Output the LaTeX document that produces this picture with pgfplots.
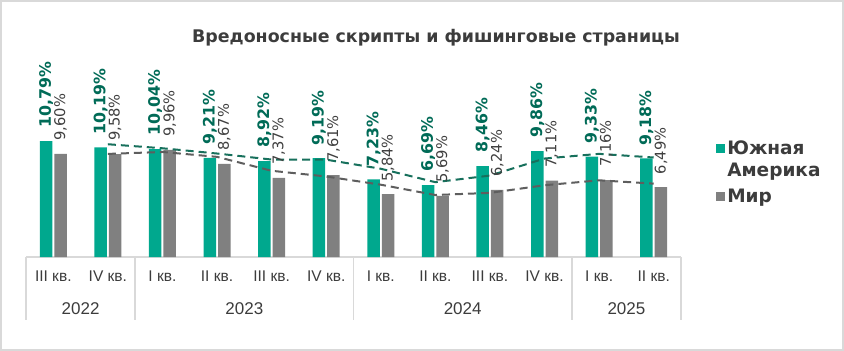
\documentclass[border=0pt]{standalone}
\usepackage{fontspec}
\setmainfont{DejaVu Sans}
\newfontfamily\lib{Liberation Sans}
\usepackage{pgfplots}
\usepackage{pgfplotstable}
\pgfplotsset{compat=1.18}
\definecolor{barGreen}{HTML}{00A88E}
\definecolor{barGray}{HTML}{808080}
\definecolor{lblGreen}{HTML}{006B57}
\definecolor{lblGray}{HTML}{404040}
\definecolor{trendGreen}{HTML}{17705C}
\definecolor{trendGray}{HTML}{5E5E5E}
\definecolor{axisGray}{HTML}{D9D9D9}
\definecolor{txtGray}{HTML}{3C3C3C}
\pgfplotsset{
  greenlegend/.style={legend image code/.code={\fill[barGreen] (0bp,6.5bp) rectangle (9bp,15.5bp);}},
  graylegend/.style={legend image code/.code={\fill[barGray] (0bp,-4.5bp) rectangle (9bp,4.5bp);}},
}

\pgfplotstableread{
x sa world
0 10.79 9.60
1 10.19 9.58
2 10.04 9.96
3 9.21 8.67
4 8.92 7.37
5 9.19 7.61
6 7.23 5.84
7 6.69 5.69
8 8.46 6.24
9 9.86 7.11
10 9.33 7.16
11 9.18 6.49
}\datatable

\pgfplotstableread{
x sa world
1 10.49 9.59
2 10.115 9.77
3 9.625 9.315
4 9.065 8.02
5 9.055 7.49
6 8.21 6.725
7 6.96 5.765
8 7.575 5.965
9 9.16 6.675
10 9.595 7.135
11 9.255 6.825
}\trendtable

\begin{document}
\begin{tikzpicture}
\useasboundingbox (0,0) rectangle (844bp,351bp);
\fill[white] (0,0) rectangle (844bp,351bp);
\draw[axisGray, line width=2bp] (1bp,1bp) rectangle (843bp,350bp);
\node[text=txtGray, font=\bfseries\fontsize{17.4bp}{21bp}\selectfont] at (436bp,313bp) {Вредоносные скрипты и фишинговые страницы};
\begin{axis}[
  at={(26bp,94bp)}, anchor=south west,
  scale only axis, width=655bp, height=193.5bp,
  xmin=-0.5, xmax=11.5, ymin=0, ymax=18,
  axis x line=bottom, axis y line=none,
  x axis line style={-, draw=axisGray, line width=1.5bp},
  xtick={0,...,11},
  xticklabels={III кв.,IV кв.,I кв.,II кв.,III кв.,IV кв.,I кв.,II кв.,III кв.,IV кв.,I кв.,II кв.},
  major tick length=0pt,
  xticklabel style={anchor=north, inner sep=0pt, yshift=-14bp, text=txtGray, font=\lib\fontsize{15.5bp}{18bp}\selectfont},
  clip=false,
  legend style={draw=none, fill=none, at={(1.049,0.62)}, anchor=north west,
    font=\bfseries\fontsize{18.5bp}{22bp}\selectfont, text=txtGray,
    cells={align=left, anchor=west}, row sep=7bp},
]
\addplot[ybar, bar width=12.5bp, bar shift=-7.25bp, fill=barGreen, draw=none, greenlegend]
  table[x=x, y=sa] {\datatable};
\addlegendentry{Южная\\Америка}
\addplot[ybar, bar width=12.5bp, bar shift=7.25bp, fill=barGray, draw=none, graylegend]
  table[x=x, y=world] {\datatable};
\addlegendentry{Мир}
\addplot[trendGreen, line width=2bp, dash pattern=on 8bp off 5bp, forget plot] table[x=x, y=sa] {\trendtable};
\addplot[trendGray, line width=2bp, dash pattern=on 8bp off 5bp, forget plot] table[x=x, y=world] {\trendtable};
% value labels
\addplot[draw=none, mark=none, forget plot,
  nodes near coords={\pgfmathprintnumber[fixed,fixed zerofill,precision=2,use comma,assume math mode=true]{\pgfplotspointmeta}\%},
  every node near coord/.append style={rotate=90, anchor=west, inner xsep=13bp, inner ysep=0pt, text=lblGreen, font=\bfseries\fontsize{15.8bp}{18bp}\selectfont}]
  table[x expr=\thisrow{x}-0.1328, y=sa] {\datatable};
\addplot[draw=none, mark=none, forget plot,
  nodes near coords={\pgfmathprintnumber[fixed,fixed zerofill,precision=2,use comma,assume math mode=true]{\pgfplotspointmeta}\%},
  every node near coord/.append style={rotate=90, anchor=west, inner xsep=13bp, inner ysep=0pt, text=lblGray, font=\fontsize{14.7bp}{17bp}\selectfont}]
  table[x expr=\thisrow{x}+0.1328, y=world] {\datatable};
% separators and year labels
\foreach \s in {-0.5,1.5,5.5,9.5,11.5} {
  \edef\temp{\noexpand\draw[axisGray, line width=1.5bp] (axis cs:\s,0) -- ([yshift=-63bp]axis cs:\s,0);}
  \temp
}
\node[anchor=north, inner sep=0pt, text=txtGray, font=\lib\fontsize{17bp}{20bp}\selectfont] at ([yshift=-45bp]axis cs:0.5,0) {2022};
\node[anchor=north, inner sep=0pt, text=txtGray, font=\lib\fontsize{17bp}{20bp}\selectfont] at ([yshift=-45bp]axis cs:3.5,0) {2023};
\node[anchor=north, inner sep=0pt, text=txtGray, font=\lib\fontsize{17bp}{20bp}\selectfont] at ([yshift=-45bp]axis cs:7.5,0) {2024};
\node[anchor=north, inner sep=0pt, text=txtGray, font=\lib\fontsize{17bp}{20bp}\selectfont] at ([yshift=-45bp]axis cs:10.5,0) {2025};
\end{axis}
\end{tikzpicture}
\end{document}
